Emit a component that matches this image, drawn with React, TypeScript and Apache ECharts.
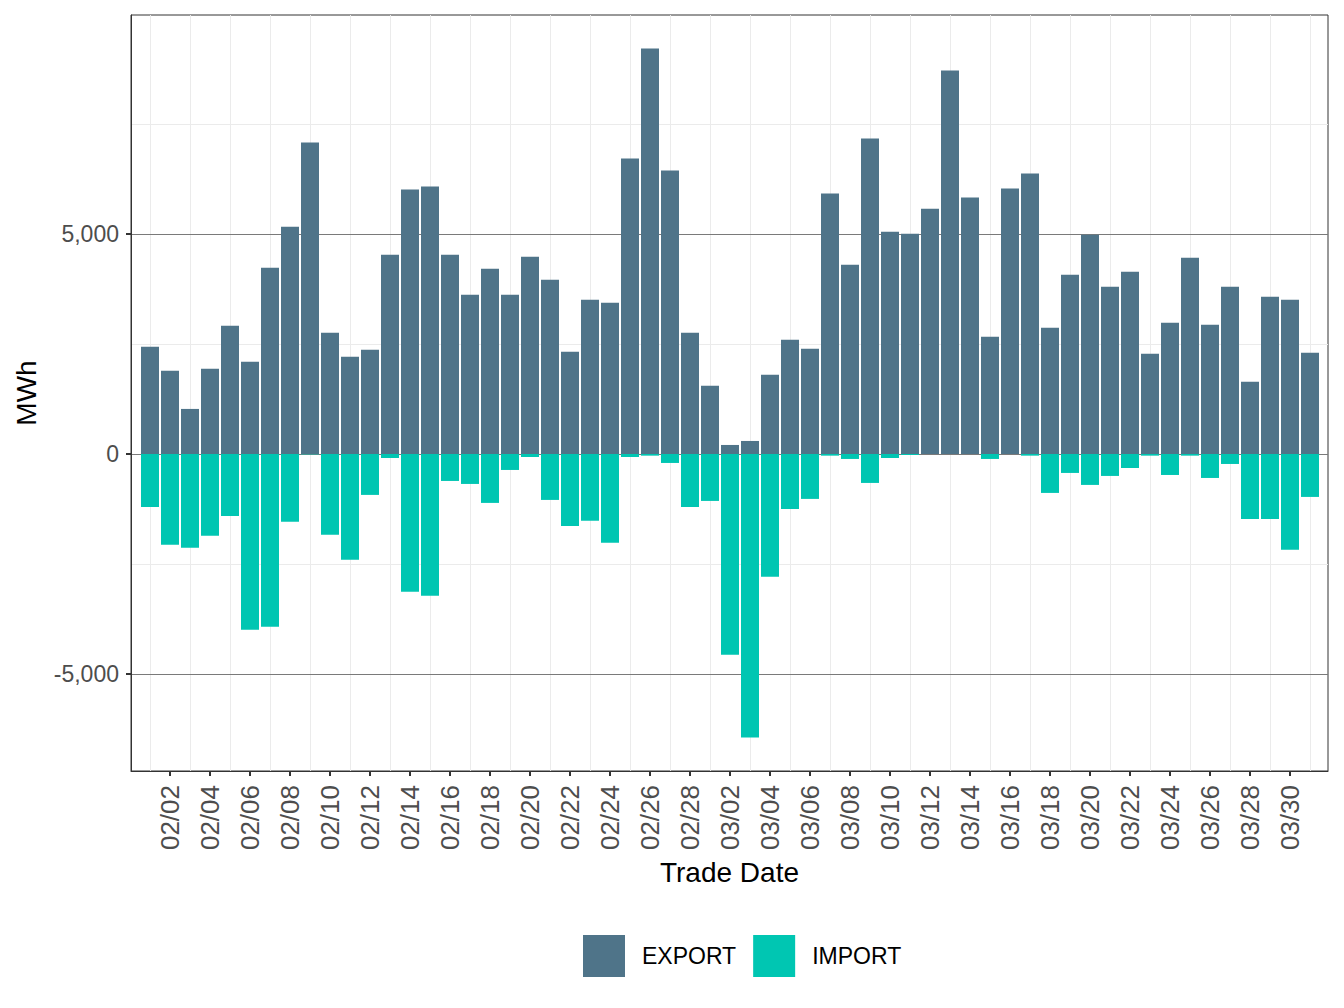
import React, { useEffect, useRef } from "react";
import * as echarts from "echarts";

// Trade dates, one bar pair per day
const dates = [
  "02/01", "02/02", "02/03", "02/04", "02/05", "02/06", "02/07", "02/08", "02/09", "02/10",
  "02/11", "02/12", "02/13", "02/14", "02/15", "02/16", "02/17", "02/18", "02/19", "02/20",
  "02/21", "02/22", "02/23", "02/24", "02/25", "02/26", "02/27", "02/28",
  "03/01", "03/02", "03/03", "03/04", "03/05", "03/06", "03/07", "03/08", "03/09", "03/10",
  "03/11", "03/12", "03/13", "03/14", "03/15", "03/16", "03/17", "03/18", "03/19", "03/20",
  "03/21", "03/22", "03/23", "03/24", "03/25", "03/26", "03/27", "03/28", "03/29", "03/30",
  "03/31",
];

// Daily exported energy (MWh)
const exportMWh = [
  2435, 1889, 1024, 1935, 2913, 2094, 4234, 5167, 7079, 2754,
  2208, 2367, 4529, 6009, 6077, 4529, 3619, 4211, 3619, 4484,
  3960, 2322, 3505, 3437, 6714, 9218, 6441, 2754,
  1548, 205, 296, 1798, 2595, 2390, 5918, 4302, 7170, 5053,
  5007, 5576, 8717, 5827, 2663, 6032, 6373, 2868, 4074, 4985,
  3801, 4143, 2276, 2982, 4461, 2936, 3801, 1639, 3573, 3505,
  2299,
];

// Daily imported energy (MWh, drawn below zero)
const importMWh = [
  -1203, -2065, -2133, -1861, -1407, -3994, -3926, -1543, -10, -1838,
  -2405, -930, -91, -3131, -3222, -613, -681, -1112, -363, -68,
  -1044, -1634, -1520, -2020, -68, -38, -204, -1203,
  -1067, -4561, -6444, -2791, -1248, -1021, -38, -113, -658, -91,
  -23, 0, 0, 0, -113, 0, -38, -885, -431, -703,
  -499, -318, -38, -477, -38, -545, -227, -1475, -1475, -2178,
  -976,
];

const yTicks = [-5000, 0, 5000];
const yMinorLines = [-2500, 2500, 7500];
const yRange = { min: -7205, max: 9977 };
// day-index range of the panel, with padding either side of the first and last day
const xRange = { min: -0.95, max: 58.9 };

const FONT = "Liberation Sans, Arial, Helvetica, sans-serif";
const EXPORT_COLOR = "#4f7489";
const IMPORT_COLOR = "#00c6b2";

// Labelled ticks fall on even days (odd indices); light verticals on the others
const isLabelled = (i: number) => i % 2 === 1;

export default function App() {
  const ref = useRef<HTMLDivElement>(null);

  useEffect(() => {
    if (!ref.current) return;
    const chart = echarts.init(ref.current, undefined, { renderer: "svg" });

    const dayIdx = dates.map((_, i) => i);
    const labelIdx = dayIdx.filter(isLabelled);
    const verticalGrid = dayIdx.filter((i) => !isLabelled(i)).map((i) => ({ xAxis: i }));

    chart.setOption({
      animation: false,
      textStyle: { fontFamily: FONT },
      grid: {
        left: 131,
        right: 16,
        top: 15,
        bottom: 237,
        show: true,
        borderColor: "#333333",
        borderWidth: 1,
        backgroundColor: "#ffffff",
      },
      legend: {
        data: ["EXPORT", "IMPORT"],
        left: 578,
        top: 930,
        icon: "rect",
        itemWidth: 42,
        itemHeight: 42,
        itemGap: 17,
        selectedMode: false,
        textStyle: {
          fontSize: 23,
          color: "#000000",
          fontFamily: FONT,
          padding: [0, 0, 0, 12],
        },
      },
      xAxis: {
        type: "value",
        min: xRange.min,
        max: xRange.max,
        name: "Trade Date",
        nameLocation: "middle",
        nameGap: 87,
        nameTextStyle: { fontSize: 28, color: "#000000", fontFamily: FONT },
        axisLine: { show: true, onZero: false, lineStyle: { color: "#333333", width: 1 } },
        axisTick: {
          show: true,
          customValues: labelIdx,
          length: 5,
          lineStyle: { color: "#333333", width: 2 },
        },
        axisLabel: {
          customValues: labelIdx,
          rotate: 90,
          fontSize: 26,
          color: "#4d4d4d",
          margin: 14,
          fontFamily: FONT,
          formatter: (v: number) => dates[Math.round(v)] ?? "",
        },
        splitLine: { show: false },
      },
      yAxis: {
        type: "value",
        min: yRange.min,
        max: yRange.max,
        name: "MWh",
        nameLocation: "middle",
        nameGap: 91,
        nameTextStyle: { fontSize: 28, color: "#000000", fontFamily: FONT },
        axisLine: { show: true, onZero: false, lineStyle: { color: "#333333", width: 1 } },
        axisTick: {
          show: true,
          customValues: yTicks,
          length: 5,
          lineStyle: { color: "#333333", width: 2 },
        },
        axisLabel: {
          customValues: yTicks,
          fontSize: 23,
          color: "#4d4d4d",
          margin: 12,
          fontFamily: FONT,
          formatter: (v: number) => v.toLocaleString("en-US"),
        },
        splitLine: { show: false },
      },
      series: [
        {
          // panel grid lines, kept beneath the bars
          type: "line",
          data: [],
          showSymbol: false,
          silent: true,
          z: 0,
          markLine: {
            silent: true,
            z: 0,
            symbol: ["none", "none"],
            label: { show: false },
            lineStyle: { color: "#ebebeb", width: 1, type: "solid" },
            data: [
              ...verticalGrid,
              ...yMinorLines.map((v) => ({ yAxis: v })),
              ...yTicks.map((v) => ({
                yAxis: v,
                lineStyle: { color: "#7a7a7a", width: 1, type: "solid" },
              })),
            ],
          },
        },
        {
          name: "EXPORT",
          type: "bar",
          data: exportMWh.map((v, i) => [i, v]),
          barWidth: 18,
          barGap: "-100%",
          itemStyle: { color: EXPORT_COLOR },
          z: 3,
        },
        {
          name: "IMPORT",
          type: "bar",
          data: importMWh.map((v, i) => [i, v]),
          barWidth: 18,
          barGap: "-100%",
          itemStyle: { color: IMPORT_COLOR },
          z: 3,
        },
      ],
    });

    return () => chart.dispose();
  }, []);

  return (
    <div
      ref={ref}
      style={{ position: "absolute", left: 0, top: 0, width: 1344, height: 1008 }}
    />
  );
}
